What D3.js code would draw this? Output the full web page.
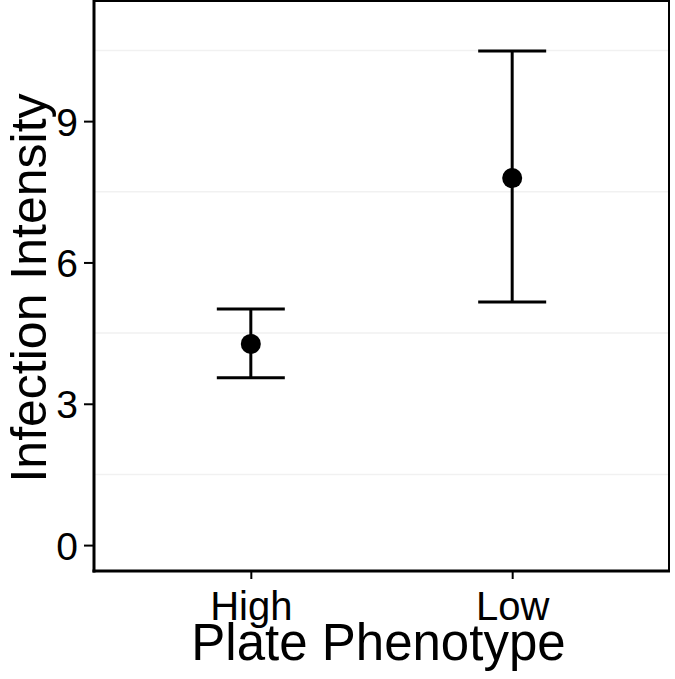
<!DOCTYPE html>
<html><head><meta charset="utf-8">
<script src="https://cdn.jsdelivr.net/npm/d3@7"></script>
<style>body{margin:0;background:#fff}svg{display:block}text{font-family:"Liberation Sans",Arial,sans-serif;fill:#000}</style>
</head><body><svg id="c" width="675" height="679"></svg>
<script>
const categories = ["High", "Low"];
const means = [4.27, 7.79];
const lower = [3.55, 5.16];
const upper = [5.01, 10.49];
const yTicks = [0, 3, 6, 9];
const yMinor = [1.5, 4.5, 7.5, 10.5];

const svg = d3.select("#c");
const L = 94, R = 669, T = 1, B = 571;
// ggplot discrete expansion: 0.6 each side
const x = d3.scalePoint().domain(categories).range([L, R]).padding(0.6);
const y = d3.scaleLinear().domain([-0.55, 11.55]).range([B, T]);

// minor gridlines
svg.append("g").selectAll("line").data(yMinor).join("line")
  .attr("x1", L).attr("x2", R).attr("y1", d => y(d)).attr("y2", d => y(d))
  .attr("stroke", "#f1f1f1").attr("stroke-width", 1.5);

// panel border
svg.append("rect").attr("x", L).attr("y", T).attr("width", R - L).attr("height", B - T)
  .attr("fill", "none").attr("stroke", "#000").attr("stroke-width", 2);

// axes
const yAxis = d3.axisLeft(y).tickValues(yTicks).tickSize(10).tickPadding(6).tickFormat(d3.format("d"));
const gy = svg.append("g").attr("transform", `translate(${L},0)`).call(yAxis);
gy.select(".domain").remove();
gy.selectAll(".tick line").attr("stroke", "#000").attr("stroke-width", 2);
gy.selectAll(".tick text").attr("font-size", 39).attr("font-family", "Liberation Sans, Arial, sans-serif").attr("fill", "#000").attr("dy", "0.36em");

const xAxis = d3.axisBottom(x).tickSize(8).tickPadding(13);
const gx = svg.append("g").attr("transform", `translate(0,${B})`).call(xAxis);
gx.select(".domain").remove();
gx.selectAll(".tick line").attr("stroke", "#000").attr("stroke-width", 2);
gx.selectAll(".tick text").attr("font-size", 40).attr("font-family", "Liberation Sans, Arial, sans-serif").attr("fill", "#000").attr("dy", "0.7em");

// thicker left & bottom axis lines
svg.append("line").attr("x1", L).attr("x2", L).attr("y1", T - 1).attr("y2", B + 1.5).attr("stroke", "#000").attr("stroke-width", 3);
svg.append("line").attr("x1", L - 1.5).attr("x2", R + 1).attr("y1", B).attr("y2", B).attr("stroke", "#000").attr("stroke-width", 3);

// error bars
const data = categories.map((c, i) => ({c, m: means[i], lo: lower[i], hi: upper[i]}));
const cap = 34;
const g = svg.append("g");
g.selectAll(".v").data(data).join("line").attr("x1", d => x(d.c)).attr("x2", d => x(d.c))
  .attr("y1", d => y(d.lo)).attr("y2", d => y(d.hi)).attr("stroke", "#000").attr("stroke-width", 3);
g.selectAll(".t").data(data).join("line").attr("x1", d => x(d.c) - cap).attr("x2", d => x(d.c) + cap)
  .attr("y1", d => y(d.hi)).attr("y2", d => y(d.hi)).attr("stroke", "#000").attr("stroke-width", 3);
g.selectAll(".b").data(data).join("line").attr("x1", d => x(d.c) - cap).attr("x2", d => x(d.c) + cap)
  .attr("y1", d => y(d.lo)).attr("y2", d => y(d.lo)).attr("stroke", "#000").attr("stroke-width", 3);
g.selectAll("circle").data(data).join("circle").attr("cx", d => x(d.c)).attr("cy", d => y(d.m))
  .attr("r", 10).attr("fill", "#000");

// titles
svg.append("text").attr("x", (L + R) / 2 - 3).attr("y", 660).attr("text-anchor", "middle")
  .attr("font-size", 51).text("Plate Phenotype");
svg.append("text").attr("transform", `translate(46,${(T + B) / 2 + 2}) rotate(-90)`).attr("text-anchor", "middle")
  .attr("font-size", 50).text("Infection Intensity");
</script></body></html>
